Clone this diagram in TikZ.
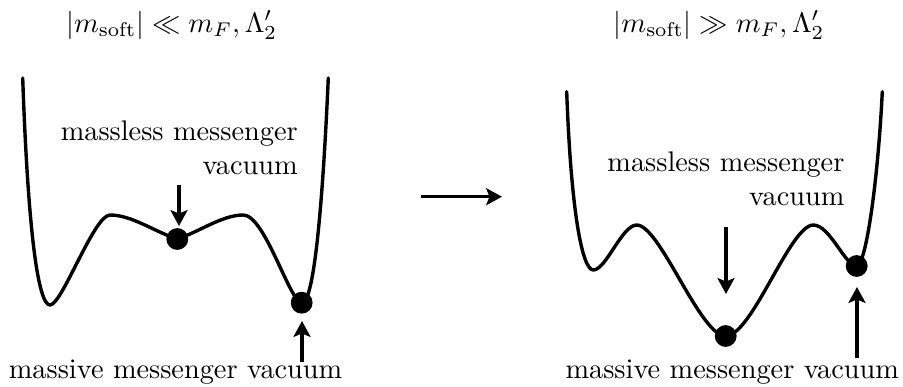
\documentclass[tikz,border=0pt]{standalone}
\usetikzlibrary{arrows.meta}
\begin{document}
\begin{tikzpicture}[x=0.353pt,y=-0.353pt,
  pot/.style={line width=1.2pt,line cap=round,line join=round},
  vac/.style={circle,fill=black,inner sep=0pt,minimum size=7.7pt},
  arr/.style={line width=1.1pt,-{Stealth[length=5.6pt,width=6pt,inset=1.2pt]}},
  lbl/.style={inner sep=0pt}]
\useasboundingbox (0,0) rectangle (903,387);
% titles
\node[lbl,anchor=base] (t1) at (171.7,32) {$|m_{\mathrm{soft}}|\ll m_F,\Lambda_2'$};
\node[lbl,anchor=base] (t2) at (719,32) {$|m_{\mathrm{soft}}|\gg m_F,\Lambda_2'$};
% left potential
\draw[pot] (22.7,78) .. controls (28,230) and (38,305) .. (50,305)
  .. controls (62,305) and (94,215) .. (110,215)
  .. controls (132,215) and (155,232) .. (177.3,239)
  .. controls (199,232) and (222,215) .. (243.3,215)
  .. controls (265,215) and (290,303) .. (302,303)
  .. controls (313,303) and (322,220) .. (328.3,78);
\node[vac] (l1) at (177.3,239) {};
\node[vac] (l2) at (301.7,302.7) {};
% right potential
\draw[pot] (566.7,91.7) .. controls (571,210) and (582,270) .. (593.3,270)
  .. controls (606,270) and (622,225) .. (636.7,225)
  .. controls (660,225) and (700,336) .. (725.7,336)
  .. controls (752,336) and (790,225) .. (813.3,225)
  .. controls (830,225) and (845,266) .. (856.7,266)
  .. controls (866,266) and (878,180) .. (882.3,91.7);
\node[vac] (r1) at (725.7,336) {};
\node[vac] (r2) at (856.7,266) {};
% labels
\node[lbl,align=right,anchor=south east] (ml) at (298.3,175) {massless messenger\\vacuum};
\node[lbl,anchor=base west] (mv) at (8.3,378) {massive messenger vacuum};
\node[lbl,align=right,anchor=south east] (mr) at (845,206) {massless messenger\\vacuum};
\node[lbl,anchor=base west] (rv) at (565,378) {massive messenger vacuum};
% arrows
\coordinate (a1s) at (179,185); \coordinate (a1e) at (179,226);
\coordinate (a2s) at (302,362); \coordinate (a2e) at (302,321);
\coordinate (a3s) at (726,227); \coordinate (a3e) at (726,294);
\coordinate (a4s) at (857,358); \coordinate (a4e) at (857,287);
\coordinate (ms) at (420.7,196.7); \coordinate (me) at (502,196.7);
\draw[arr] (a1s) -- (a1e);
\draw[arr] (a2s) -- (a2e);
\draw[arr] (a3s) -- (a3e);
\draw[arr] (a4s) -- (a4e);
\draw[arr] (ms) -- (me);
\end{tikzpicture}
\end{document}
